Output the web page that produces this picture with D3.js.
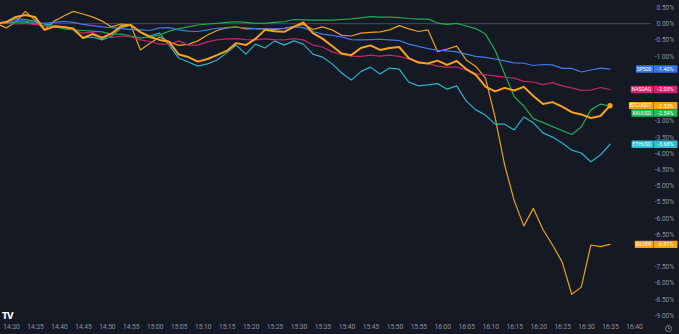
<!DOCTYPE html>
<html><head><meta charset="utf-8">
<script src="https://cdn.jsdelivr.net/npm/d3@7"></script>
<style>html,body{margin:0;padding:0;background:#151924;overflow:hidden}svg{display:block}</style>
</head><body><svg id="c" width="679" height="334"></svg>
<script>
const times = ["14:27","14:29","14:31","14:33","14:35","14:37","14:39","14:41","14:43","14:45","14:47","14:49","14:51","14:53","14:55","14:57","14:59",
"15:01","15:03","15:05","15:07","15:09","15:11","15:13","15:15","15:17","15:19","15:21","15:23","15:25","15:27","15:29","15:31","15:33","15:35","15:37","15:39","15:41","15:43","15:45","15:47","15:49","15:51","15:53","15:55","15:57","15:59",
"16:01","16:03","16:05","16:07","16:09","16:11","16:13","16:15","16:17","16:19","16:21","16:23","16:25","16:27","16:29","16:31","16:33","16:35"];

const sp500 = [0.01,0.02,0.10,0.08,0.02,0.01,0.04,0.07,0.04,-0.02,-0.06,-0.10,-0.12,-0.15,-0.18,-0.19,-0.21,-0.13,-0.12,-0.19,-0.23,-0.24,-0.19,-0.14,-0.13,-0.11,-0.13,-0.15,-0.17,-0.15,-0.14,-0.10,-0.12,-0.24,-0.32,-0.36,-0.41,-0.49,-0.50,-0.49,-0.48,-0.50,-0.52,-0.63,-0.70,-0.77,-0.82,-0.84,-0.87,-0.94,-1.01,-1.04,-1.09,-1.15,-1.21,-1.22,-1.29,-1.26,-1.27,-1.38,-1.38,-1.49,-1.43,-1.37,-1.40];
const nasdaq = [0.01,0.01,-0.01,0.01,-0.02,-0.06,-0.07,-0.10,-0.19,-0.29,-0.26,-0.41,-0.43,-0.38,-0.41,-0.50,-0.55,-0.63,-0.63,-0.53,-0.66,-0.66,-0.56,-0.50,-0.47,-0.46,-0.49,-0.50,-0.47,-0.49,-0.50,-0.46,-0.50,-0.66,-0.72,-0.87,-0.95,-1.00,-1.01,-0.97,-1.00,-0.97,-1.01,-1.09,-1.17,-1.23,-1.31,-1.34,-1.34,-1.43,-1.54,-1.58,-1.61,-1.65,-1.68,-1.78,-1.80,-1.88,-1.82,-1.92,-1.98,-2.06,-2.05,-1.97,-2.03];
const xauusd = [0.01,0.01,0.05,0.05,-0.01,-0.07,-0.09,-0.15,-0.19,-0.21,-0.23,-0.25,-0.32,-0.32,-0.38,-0.44,-0.41,-0.35,-0.23,-0.15,-0.10,-0.04,-0.01,0.01,0.04,0.06,0.04,0.01,0.01,0.04,0.06,0.13,0.12,0.11,0.11,0.11,0.13,0.15,0.18,0.22,0.20,0.20,0.19,0.16,0.14,0.14,0.02,-0.02,0.01,-0.07,-0.15,-0.32,-0.81,-1.55,-2.25,-2.54,-2.93,null,null,null,-3.42,-3.19,-2.66,-2.48,-2.54];
const ethusd = [0.01,0.05,0.16,0.13,0.07,-0.01,-0.06,-0.10,-0.19,-0.44,-0.41,-0.50,-0.38,-0.13,-0.04,-0.26,-0.38,-0.29,-0.66,-1.06,-1.18,-1.31,-1.24,-1.12,-0.90,-0.66,-0.94,-0.63,-0.75,-0.53,-0.66,-0.53,-0.63,-0.94,-1.03,-1.24,-1.52,-1.74,-1.48,-1.34,-1.55,-1.37,-1.40,-1.80,-1.92,-1.89,-1.85,-2.02,-1.92,-2.39,-2.66,-2.82,-3.10,-3.10,-3.28,-2.88,-3.06,-3.37,-3.50,-3.68,-3.90,-3.99,-4.26,-4.05,-3.72];
const btcusdt = [0.01,0.05,0.21,0.27,0.21,-0.19,-0.09,-0.10,-0.15,-0.44,-0.32,-0.44,-0.30,-0.07,-0.04,-0.26,-0.41,-0.50,-0.56,-0.95,-1.03,-1.17,-1.09,-0.97,-0.84,-0.60,-0.66,-0.47,-0.19,-0.23,-0.25,-0.10,0.04,-0.29,-0.46,-0.69,-0.92,-0.97,-0.75,-0.67,-0.81,-0.75,-0.72,-1.06,-1.20,-1.23,-1.14,-1.27,-1.15,-1.40,-1.58,-1.94,-2.09,-1.98,-2.06,-1.95,-2.23,-2.48,-2.42,-2.56,-2.73,-2.80,-2.91,-2.85,-2.53];
const silver = [0.01,-0.13,0.05,0.38,0.11,-0.19,0.08,0.24,0.38,0.30,0.21,0.08,-0.10,-0.01,-0.04,-0.81,-0.60,-0.41,-0.56,-0.67,-0.64,-0.53,-0.35,-0.21,-0.12,-0.10,-0.16,-0.15,-0.16,-0.18,-0.14,-0.09,-0.02,-0.18,-0.10,-0.19,-0.36,-0.38,-0.29,-0.27,-0.25,-0.19,-0.06,-0.16,-0.24,-0.19,-0.86,-0.78,-0.69,-1.12,-1.32,-1.68,-2.88,-4.36,-5.46,-6.24,-5.70,-6.35,-6.83,-7.35,-8.35,-8.13,-6.83,-6.88,-6.81];

const seriesNames = ["SILVER","ETHUSD","XAUUSD","NASDAQ","SP500","BTCUSDT"];
const lastValueLabels = ["-6.81%","-3.68%","-2.54%","-2.03%","-1.40%","-2.53%"];

const yTicks = [0.5,0,-0.5,-1,-1.5,-2,-2.5,-3,-3.5,-4,-4.5,-5,-5.5,-6,-6.5,-7,-7.5,-8,-8.5,-9];
const xTicks = ["14:30","14:35","14:40","14:45","14:50","14:55","15:00","15:05","15:10","15:15","15:20","15:25","15:30","15:35","15:40","15:45","15:50","15:55","16:00","16:05","16:10","16:15","16:20","16:25","16:30","16:35","16:40"];

const seriesValues = [silver, ethusd, xauusd, nasdaq, sp500, btcusdt];
const styles = [
  {color:"#e9a118", label:"#f3a21c", width:1.2},
  {color:"#2ab3c5", label:"#2ebdd0", width:1.2},
  {color:"#21ac4f", label:"#1fbb57", width:1.2},
  {color:"#c2266b", label:"#d3236e", width:1.2},
  {color:"#3f7be6", label:"#3a73ea", width:1.2},
  {color:"#f7a21b", label:"#f7a21b", width:2}
];
const seriesDefs = seriesNames.map((n,i) => Object.assign({name:n, values:seriesValues[i], text:lastValueLabels[i]}, styles[i]));

const svg = d3.select("#c");
const W = 679, H = 334;
svg.append("rect").attr("width",W).attr("height",H).attr("fill","#151924");

const parse = d3.timeParse("%H:%M");
const x = d3.scaleTime().domain([parse("14:30"), parse("16:40")]).range([11, 634]);
const y = d3.scaleLinear().domain([0, -9]).range([23.7, 315.3]);
const FONT = "Roboto, 'Noto Sans', sans-serif";

// series points
seriesDefs.forEach(s => {
  s.pts = s.values.map((v,i) => ({t: parse(times[i]), v})).filter(d => d.v !== null);
});

// right labels positions with collision avoidance
const LH = 7.4;
const labels = seriesDefs.map(s => {
  const last = s.pts[s.pts.length-1];
  return {s, v:last.v, ly:y(last.v)};
}).sort((a,b) => a.ly - b.ly);
for (let i=1;i<labels.length;i++){
  if (labels[i].ly < labels[i-1].ly + LH) labels[i].ly = labels[i-1].ly + LH;
}

// zero baseline
svg.append("line").attr("x1",0).attr("x2",651).attr("y1",y(0)).attr("y2",y(0))
  .attr("stroke","#4a4e59").attr("stroke-width",1);

// price axis (ticks hidden beneath the series labels, as in the reference)
const visibleTicks = yTicks.filter(t => labels.every(L => Math.abs(y(t) - L.ly) >= 6.5));
const ya = svg.append("g").attr("transform","translate(674,0)")
  .call(d3.axisRight(y).tickValues(visibleTicks).tickSize(0).tickPadding(0)
    .tickFormat(d => d.toFixed(2) + "%"));
ya.select(".domain").remove();
ya.selectAll("text").attr("text-anchor","end").attr("fill","#8f939c")
  .style("font-family",FONT).style("font-size","6.5px");

// time axis
const xa = svg.append("g").attr("transform","translate(0,324.5)")
  .call(d3.axisBottom(x).tickValues(xTicks.map(parse)).tickSize(0).tickPadding(0)
    .tickFormat(d3.timeFormat("%H:%M")));
xa.select(".domain").remove();
xa.selectAll("text").attr("fill","#8f939c").style("font-family",FONT).style("font-size","6.6px");

// lines
svg.append("clipPath").attr("id","pl").append("rect")
  .attr("x",0).attr("y",0).attr("width",636).attr("height",320);
const plot = svg.append("g").attr("clip-path","url(#pl)");
const line = d3.line().x(d => x(d.t)).y(d => y(d.v)).curve(d3.curveLinear);

seriesDefs.forEach(s => {
  plot.append("path").datum(s.pts).attr("d", line).attr("fill","none")
    .attr("stroke", s.color).attr("stroke-width", s.width)
    .attr("stroke-linejoin","round").attr("stroke-linecap","round");
});

// BTC end dot
const btc = seriesDefs.find(s => s.name === "BTCUSDT");
const lastB = btc.pts[btc.pts.length-1];
svg.append("circle").attr("cx", x(lastB.t)).attr("cy", y(lastB.v)).attr("r", 2.6).attr("fill","#f7a21b");

// label boxes
labels.forEach(L => {
  const g = svg.append("g");
  const vx0 = 653.5, vx1 = 677.5;
  g.append("rect").attr("x",vx0).attr("y",L.ly - LH/2).attr("width",vx1-vx0).attr("height",LH)
    .attr("fill",L.s.label).attr("rx",0.8);
  g.append("text").attr("x",(vx0+vx1)/2).attr("y",L.ly).attr("dy","0.36em")
    .attr("text-anchor","middle").attr("fill","#ffffff")
    .style("font-family",FONT).style("font-size","5.5px").text(L.s.text);
  const nt = g.append("text").attr("x",651.3).attr("y",L.ly).attr("dy","0.36em")
    .attr("text-anchor","end").attr("fill","#ffffff")
    .style("font-family",FONT).style("font-size","5px").text(L.s.name);
  const tw = nt.node().getComputedTextLength();
  g.insert("rect","text").attr("x",652.5 - tw - 2).attr("y",L.ly - LH/2).attr("width",tw + 2.8).attr("height",LH)
    .attr("fill",L.s.label).attr("rx",0.8);
});

// TradingView logo
svg.append("text").attr("x",2).attr("y",318.5).attr("fill","#ffffff")
  .style("font-family","'DejaVu Sans', sans-serif").style("font-weight","900").style("font-size","8.5px")
  .style("letter-spacing","-0.8px").text("TV");

// clock icon
const ic = svg.append("g").attr("transform","translate(668.5,328.5)").attr("fill","none").attr("stroke","#8f939c").attr("stroke-width",0.8);
ic.append("circle").attr("r",3);
ic.append("path").attr("d","M0,-1.8 V0 H1.4");
</script>
</body></html>
